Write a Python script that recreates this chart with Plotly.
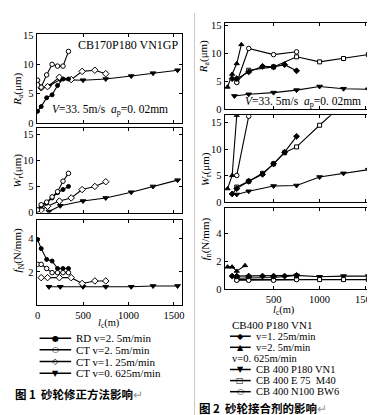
import plotly.graph_objects as go

W, H = 375, 415

# ---------------- Figure 1 (left): dressing method ----------------
L_RD_x = [0, 40, 100, 160, 220, 280, 340]
L_RD_Ra = [2.0, 2.8, 4.3, 4.8, 6.4, 7.5, 7.5]
L_RD_Wr = [0.5, 1.2, 1.8, 2.8, 3.8, 4.4, 5.0]
L_RD_fN = [3.95, 3.4, 2.75, 2.65, 2.2, 2.2, 2.2]

L_CT25_x = [0, 40, 100, 160, 220, 280, 340]
L_CT25_Ra = [7.3, 6.1, 8.2, 10.0, 9.7, 9.7, 12.2]
L_CT25_Wr = [0.5, 1.5, 2.0, 3.0, 4.0, 6.0, 7.5]
L_CT25_fN = [2.45, 2.45, 2.2, 1.95, 1.95, 1.95, 1.95]

L_CT125_x = [40, 110, 240, 370, 490, 630, 750]
L_CT125_Ra = [6.0, 6.2, 7.8, 7.4, 8.8, 9.0, 8.4]
L_CT125_Wr = [0.5, 1.2, 2.2, 2.8, 4.4, 5.0, 5.9]
L_CT125_fN = [1.65, 1.65, 1.65, 1.65, 1.3, 1.45, 1.45]

L_CT0625_x = [125, 250, 500, 750, 1030, 1270, 1540]
L_CT0625_Ra = [6.3, 7.4, 7.3, 7.5, 8.0, 8.5, 9.0]
L_CT0625_Wr = [0.2, 1.3, 2.2, 2.8, 3.9, 5.0, 6.2]
L_CT0625_fN = [1.1, 1.1, 1.1, 1.1, 1.1, 1.15, 1.15]

L_legend = ["RD v=2. 5m/min", "CT v=2. 5m/min", "CT v=1. 25m/min", "CT v=0. 625m/min"]
L_x_ticks = [0, 500, 1000, 1500]

# ---------------- Figure 2 (right): wheel bond ----------------
R_D_x = [50, 100, 230, 380, 500, 620, 750]          # v=1.25 (diamond)
R_D_Ra = [5.5, 5.5, 6.7, 7.7, 7.6, 8.0, 6.9]
R_D_Wr = [1.5, 2.5, 3.9, 5.2, 7.2, 9.4, 12.4]
R_D_fn = [0.95, 0.95, 0.95, 0.95, 0.95, 0.95, 1.0]

R_T_Ra_x = [0, 50, 100, 150]                         # v=2.5 (triangle up)
R_T_Ra = [4.0, 6.3, 8.2, 11.6]
R_T_Wr_x = [0, 50, 100]
R_T_Wr = [2.5, 5.0, 16.4]
R_T_fn_x = [0, 50, 100, 190]
R_T_fn = [1.6, 1.6, 1.3, 1.7]

R_V_Ra_x = [75, 230, 500, 750, 1000, 1260, 1530]     # CB400 P180 VN1 (triangle down)
R_V_Ra = [2.4, 2.7, 3.0, 3.45, 4.1, 3.7, 3.6]
R_V_x = [100, 230, 500, 750, 1000, 1260, 1530]
R_V_Wr = [1.4, 2.0, 3.0, 3.1, 4.7, 5.4, 6.1]
R_V_fn = [0.8, 0.8, 0.85, 1.0, 0.9, 0.95, 0.95]

R_E_x = [100, 230, 500, 750, 1000, 1260, 1530]       # CB400 E75 M40 (square)
R_E_Ra = [5.0, 7.0, 7.6, 9.4, 8.5, 9.1, 9.8]
R_E_Wr_x = [100, 230, 380, 500, 620, 750, 1000, 1260]
R_E_Wr = [2.8, 3.9, 5.4, 7.2, 9.3, 10.4, 14.5, 18.6]
R_E_fn = [0.7, 0.7, 0.7, 0.75, 0.7, 0.7, 0.7]

R_N_x = [100, 230, 500, 750]                         # CB400 N100 BW6 (circle)
R_N_Ra = [4.8, 10.9, 9.8, 10.3]
R_N_Wr_x = [100, 230]
R_N_Wr = [5.0, 16.2]
R_N_fn = [0.65, 0.65, 0.65, 0.7]

R_legend_title = "CB400 P180 VN1"
R_legend = ["v=1. 25m/min", "v=2. 5m/min", "v=0. 625m/min",
            "CB 400 P180 VN1", "CB 400 E 75  M40", "CB 400 N100 BW6"]
R_x_ticks = [500, 1000, 1500]

SERIF = "Liberation Serif, DejaVu Serif, serif"
CJK = "Noto Sans CJK SC, sans-serif"


def px_x(p):
    return p / W


def px_y(p):
    return 1 - p / H


fig = go.Figure()


def add(x, y, sym, ax, filled=True, size=4):
    fig.add_trace(go.Scatter(
        x=x, y=y, mode="lines+markers", xaxis="x" + ax, yaxis="y" + ax,
        line=dict(color="black", width=1.1),
        marker=dict(symbol=sym, size=size, color="black" if filled else "white",
                    line=dict(color="black", width=1)),
        showlegend=False, hoverinfo="skip"))


# left panels: 1 (Ra), 2 (Wr), 3 (fN)
for ax, (rd, c25, c125, c0625) in zip(["", "2", "3"], [
        (L_RD_Ra, L_CT25_Ra, L_CT125_Ra, L_CT0625_Ra),
        (L_RD_Wr, L_CT25_Wr, L_CT125_Wr, L_CT0625_Wr),
        (L_RD_fN, L_CT25_fN, L_CT125_fN, L_CT0625_fN)]):
    add(L_CT0625_x, c0625, "triangle-down", ax, size=5)
    add(L_CT125_x, c125, "diamond", ax, filled=False, size=5)
    add(L_RD_x, rd, "circle", ax, size=4)
    add(L_CT25_x, c25, "circle", ax, filled=False, size=4.5)

# right panels: 4 (Ra), 5 (Wr), 6 (fn)
add(R_V_Ra_x, R_V_Ra, "triangle-down", "4", size=5)
add(R_E_x, R_E_Ra, "square", "4", filled=False)
add(R_N_x, R_N_Ra, "circle", "4", filled=False, size=4.5)
add(R_D_x, R_D_Ra, "diamond", "4", size=4.5)
add(R_T_Ra_x, R_T_Ra, "triangle-up", "4", size=4.5)

add(R_V_x, R_V_Wr, "triangle-down", "5", size=5)
add(R_E_Wr_x, R_E_Wr, "square", "5", filled=False)
add(R_N_Wr_x, R_N_Wr, "circle", "5", filled=False, size=4.5)
add(R_D_x, R_D_Wr, "diamond", "5", size=4.5)
add(R_T_Wr_x, R_T_Wr, "triangle-up", "5", size=4.5)

add(R_V_x, R_V_fn, "triangle-down", "6", size=5)
add(R_E_x, R_E_fn, "square", "6", filled=False)
add(R_N_x, R_N_fn, "circle", "6", filled=False, size=4.5)
add(R_D_x, R_D_fn, "diamond", "6", size=4.5)
add(R_T_fn_x, R_T_fn, "triangle-up", "6", size=4.5)

axis_common = dict(showline=True, linecolor="black", linewidth=1, mirror="ticks",
                   ticks="inside", ticklen=3, tickcolor="black", showgrid=False,
                   zeroline=False, tickfont=dict(family=SERIF, size=10.5, color="black"))

L_dom_x = [px_x(27), px_x(174)]
R_dom_x = [px_x(217.5), px_x(373)]
L_xrange = [-10, 1585]
R_xrange = [-32, 1635]

layout = dict(
    width=W, height=H, margin=dict(l=0, r=0, t=0, b=0),
    paper_bgcolor="white", plot_bgcolor="white", showlegend=False,
    xaxis=dict(domain=L_dom_x, range=L_xrange, anchor="y", tickvals=L_x_ticks,
               showticklabels=False, **axis_common),
    yaxis=dict(domain=[px_y(113), px_y(22)], range=[0, 15.1], anchor="x",
               tickvals=[0, 5, 10, 15], **axis_common),
    xaxis2=dict(domain=L_dom_x, range=L_xrange, anchor="y2", tickvals=L_x_ticks,
                showticklabels=False, **axis_common),
    yaxis2=dict(domain=[px_y(205), px_y(118)], range=[0, 16.2], anchor="x2",
                tickvals=[0, 5, 10, 15], **axis_common),
    xaxis3=dict(domain=L_dom_x, range=L_xrange, anchor="y3", tickvals=L_x_ticks,
                **axis_common),
    yaxis3=dict(domain=[px_y(300), px_y(213)], range=[0, 5.1], anchor="x3",
                tickvals=[2, 4], **axis_common),
    xaxis4=dict(domain=R_dom_x, range=R_xrange, anchor="y4", tickvals=R_x_ticks,
                showticklabels=False, **axis_common),
    yaxis4=dict(domain=[px_y(99), px_y(10)], range=[0, 15.5], anchor="x4",
                tickvals=[0, 5, 10, 15], **axis_common),
    xaxis5=dict(domain=R_dom_x, range=R_xrange, anchor="y5", tickvals=R_x_ticks,
                showticklabels=False, **axis_common),
    yaxis5=dict(domain=[px_y(194), px_y(105)], range=[0, 16.4], anchor="x5",
                tickvals=[0, 5, 10, 15], **axis_common),
    xaxis6=dict(domain=R_dom_x, range=R_xrange, anchor="y6", tickvals=R_x_ticks,
                **axis_common),
    yaxis6=dict(domain=[px_y(284), px_y(200)], range=[0, 5.8], anchor="x6",
                tickvals=[0, 2, 4], **axis_common),
)
fig.update_layout(**layout)

ann = []


def text(x, y, s, size=11, family=SERIF, anchor="left", angle=0, color="black", yanchor="middle"):
    ann.append(dict(x=px_x(x), y=px_y(y), xref="paper", yref="paper", text=s,
                    showarrow=False, xanchor=anchor, yanchor=yanchor, textangle=angle,
                    font=dict(family=family, size=size, color=color)))


# y-axis titles
text(8, 78, "<i>R</i><sub>a</sub>(μm)", anchor="center", angle=-90)
text(8, 162, "<i>W</i><sub>r</sub>(μm)", anchor="center", angle=-90)
text(8, 244, "<i>f</i><sub>N</sub>(N/mm)", anchor="center", angle=-90)
text(196, 45, "<i>R</i><sub>a</sub>(μm)", anchor="center", angle=-90)
text(198, 160, "<i>W</i><sub>r</sub>(μm)", anchor="center", angle=-90)
text(198, 232, "<i>f</i><sub>n</sub>(N/mm)", anchor="center", angle=-90)

# x-axis titles
text(100, 319, "<i>l</i><sub>c</sub>(m)", size=10.5, anchor="center")
text(278, 306, "<i>l</i><sub>c</sub>(m)", size=10.5, anchor="center")

# in-plot texts
text(172, 33, "CB170P180 VN1GP", size=12, anchor="right")
text(41, 100, "<i>V</i>=33. 5m/s  <i>a</i><sub>p</sub>=0. 02mm", size=11.5)
text(236, 91, "<i>V</i>=33. 5m/s  <i>a</i><sub>p</sub>=0. 02mm", size=11.5)

shapes = []


def sample(x0, x1, y, sym):
    shapes.append(dict(type="line", xref="paper", yref="paper",
                       x0=px_x(x0), x1=px_x(x1), y0=px_y(y), y1=px_y(y),
                       line=dict(color="black", width=1.5)))
    text((x0 + x1) / 2, y, sym, size=8, family="DejaVu Sans", anchor="center")


# left legend
L_syms = ["●", "○", "◇", "▼"]
for i, (lab, sym) in enumerate(zip(L_legend, L_syms)):
    y = 334 + 12 * i
    sample(30, 62, y, sym)
    text(65, y, lab, size=11)

# right legend
text(223, 320, R_legend_title, size=11)
R_syms = ["◆", "▲", None, "▼", "□", "○"]
for i, (lab, sym) in enumerate(zip(R_legend, R_syms)):
    y = 332 + 11.4 * i
    if sym is None:
        text(223, y, lab, size=10.5)
    else:
        sample(223, 244, y, sym)
        text(247, y, lab, size=10.5)

# captions
text(3, 391, "<b>图 1  砂轮修正方法影响</b><span style='color:#999'>↵</span>", size=11.5, family=CJK)
text(190, 406, "<b>图 2  砂轮接合剂的影响</b><span style='color:#999'>↵</span>", size=11.5, family=CJK)

# separator between the two figures
shapes.append(dict(type="line", xref="paper", yref="paper", x0=px_x(187), x1=px_x(187),
                   y0=0, y1=1, line=dict(color="#c8c8c8", width=1)))

fig.update_layout(annotations=ann, shapes=shapes)
fig.write_html("out.html")
